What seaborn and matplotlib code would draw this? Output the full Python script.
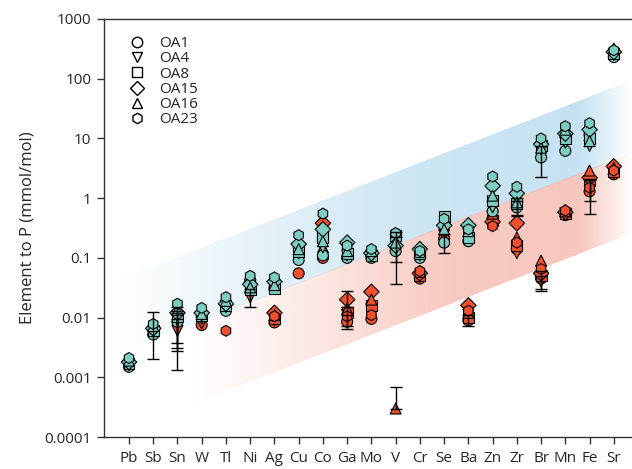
import numpy as np
import pandas as pd
import matplotlib
matplotlib.use("Agg")
import matplotlib.pyplot as plt
import seaborn as sns
from matplotlib.lines import Line2D
from matplotlib.patches import Polygon
from matplotlib.ticker import NullLocator
from matplotlib.colors import to_rgb

nan = np.nan

elements = ["Pb", "Sb", "Sn", "W", "Tl", "Ni", "Ag", "Cu", "Co", "Ga", "Mo",
            "V", "Cr", "Se", "Ba", "Zn", "Zr", "Br", "Mn", "Fe", "Sr"]
samples = ["OA1", "OA4", "OA8", "OA15", "OA16", "OA23"]
sample_markers = ["o", "v", "s", "D", "^", "h"]

# teal group (element order as above)
teal_OA1 = [0.0015, 0.0052, 0.0085, 0.0105, 0.013, 0.042, 0.031, 0.092, 0.11, 0.10, 0.10,
            0.13, 0.10, 0.18, 0.19, 0.6, 0.7, 4.8, 6.2, 11.5, 230]
teal_OA4 = [0.0016, 0.0058, 0.009, 0.0095, 0.015, 0.028, 0.033, 0.12, 0.15, 0.11, 0.11,
            0.20, 0.11, 0.28, 0.25, 0.7, 1.0, 6.5, 8.5, 7.5, 250]
teal_OA8 = [0.0017, 0.006, 0.0105, 0.011, 0.016, 0.030, 0.031, 0.13, 0.22, 0.12, 0.11,
            0.24, 0.12, 0.50, 0.22, 0.9, 0.8, 7.5, 10, 10, 260]
teal_OA15 = [0.0018, 0.0066, 0.012, 0.012, 0.017, 0.036, 0.040, 0.17, 0.30, 0.18, 0.12,
             0.16, 0.14, 0.35, 0.35, 1.6, 1.2, 8, 12, 14, 280]
teal_OA16 = [0.0019, 0.0072, 0.0135, 0.0115, 0.019, 0.032, 0.035, 0.14, 0.19, 0.13, 0.13,
             0.18, 0.125, 0.30, 0.28, 1.1, 0.85, 7, 14, 9, 320]
teal_OA23 = [0.0021, 0.0078, 0.017, 0.0145, 0.022, 0.050, 0.047, 0.24, 0.55, 0.16, 0.14,
             0.26, 0.13, 0.45, 0.30, 2.3, 1.55, 10, 16, 18, 300]

# red group
red_OA1 = [nan, nan, nan, 0.0075, nan, nan, 0.0083, 0.055, 0.10, 0.0085, 0.0095,
           nan, 0.045, 0.21, 0.009, 0.45, 0.14, 0.045, 0.52, 1.3, 2.5]
red_OA4 = [nan, nan, 0.006, 0.008, nan, 0.022, 0.009, nan, 0.20, 0.011, 0.014,
           nan, 0.048, 0.24, 0.011, 0.5, 0.12, 0.04, 0.55, 1.8, 2.6]
red_OA8 = [nan, nan, nan, nan, nan, nan, 0.0095, nan, 0.25, 0.012, 0.016,
           nan, 0.05, nan, 0.01, 0.42, 0.16, 0.05, 0.56, 2.0, 2.8]
red_OA15 = [nan, nan, nan, nan, nan, nan, 0.012, nan, 0.38, 0.020, 0.027,
            nan, 0.055, nan, 0.016, 0.40, 0.38, 0.055, 0.58, 2.2, 3.4]
red_OA16 = [nan, nan, nan, nan, nan, nan, 0.011, nan, 0.15, 0.014, 0.020,
            0.0003, 0.058, nan, 0.012, 0.55, 0.22, 0.09, 0.60, 2.9, 3.2]
red_OA23 = [nan, nan, nan, nan, 0.006, nan, 0.0105, nan, 0.30, 0.0105, 0.011,
            nan, 0.060, nan, 0.013, 0.34, 0.18, 0.065, 0.62, 1.5, 2.9]

# visible error bars: element, group, sample, lower bound, upper bound
err_element = ["Sb", "Sn", "Sn", "Sn", "Sn", "Ni", "V", "V", "V", "Se", "Ga", "Ga", "Ga",
               "Ba", "Zr", "Zr", "Br", "Br", "Br", "Fe", "Fe"]
err_group = ["teal", "red", "teal", "teal", "teal", "red", "teal", "teal", "red", "teal", "red", "red", "red",
             "red", "teal", "teal", "teal", "red", "red", "red", "red"]
err_sample = ["OA1", "OA4", "OA1", "OA4", "OA8", "OA4", "OA1", "OA4", "OA16", "OA1", "OA1", "OA15", "OA4",
              "OA1", "OA1", "OA8", "OA1", "OA1", "OA4", "OA1", "OA23"]
err_lower = [0.002, 0.00135, 0.0037, 0.0031, 0.0028, 0.015, 0.037, 0.084, 0.0003, 0.12, 0.0065, 0.015, 0.0072,
             0.0072, 0.53, 0.50, 2.3, 0.030, 0.028, 0.54, 0.88]
err_upper = [0.0122, 0.0095, 0.012, 0.013, 0.015, 0.030, 0.22, 0.27, 0.00068, 0.25, 0.011, 0.0275, 0.015,
             0.011, 0.9, 1.0, 7.5, 0.06, 0.05, 2.0, 2.1]

# shaded trend bands: edges at category positions 0 and 20
band_x = [0, 20]
blue_lo = [0.0029, 4.2]
blue_hi = [0.05, 72]
red_lo = [0.000135, 0.197]
red_hi = [0.003, 4.4]
blue_alpha_x = [-0.8, 4, 12, 18.6, 20.75]
blue_alpha = [0.0, 0.3, 0.75, 0.85, 0.0]
red_alpha_x = [2.5, 7, 13, 18.6, 20.75]
red_alpha = [0.0, 0.3, 0.8, 0.85, 0.0]

teal_color = "#7DCDC3"
red_color = "#F0502E"
blue_band_color = "#BCDDF0"
red_band_color = "#F7BDB2"

teal_series = [teal_OA1, teal_OA4, teal_OA8, teal_OA15, teal_OA16, teal_OA23]
red_series = [red_OA1, red_OA4, red_OA8, red_OA15, red_OA16, red_OA23]

rows = []
for grp, series in (("red", red_series), ("teal", teal_series)):
    for smp, vals in zip(samples, series):
        for i, (el, v) in enumerate(zip(elements, vals)):
            if not np.isnan(v):
                rows.append(dict(element=el, pos=i, group=grp, sample=smp, value=v))
df = pd.DataFrame(rows)

sns.set_style("ticks")
plt.rcParams["font.family"] = ["Open Sans", "DejaVu Sans"]

fig = plt.figure(figsize=(6.32, 4.69), dpi=100)
ax = fig.add_axes([104 / 632, 32 / 469, 528 / 632, 418 / 469])
ax.set_yscale("log")

YMIN, YMAX = 1e-4, 1e3
XMIN, XMAX = -1.03, 20.75


def edge(x, ends):
    l0, l1 = np.log10(ends[0]), np.log10(ends[1])
    return 10 ** (l0 + (l1 - l0) * (x - band_x[0]) / (band_x[1] - band_x[0]))


def draw_band(lo, hi, color, ax_x, alphas):
    x0, x1 = ax_x[0], ax_x[-1]
    xs = np.linspace(x0, x1, 500)
    rgba = np.zeros((1, len(xs), 4))
    rgba[..., :3] = to_rgb(color)
    rgba[0, :, 3] = np.interp(xs, ax_x, alphas)
    img = ax.imshow(rgba, extent=(x0, x1, YMIN, YMAX), aspect="auto",
                    interpolation="bilinear", origin="upper", zorder=0.5)
    poly = Polygon([(x0, edge(x0, lo)), (x1, edge(x1, lo)),
                    (x1, edge(x1, hi)), (x0, edge(x0, hi))],
                   closed=True, facecolor="none", edgecolor="none",
                   transform=ax.transData)
    ax.add_patch(poly)
    img.set_clip_path(poly)


draw_band(blue_lo, blue_hi, blue_band_color, blue_alpha_x, blue_alpha)
draw_band(red_lo, red_hi, red_band_color, red_alpha_x, red_alpha)

sns.scatterplot(data=df, x="pos", y="value", hue="group", style="sample",
                palette={"teal": teal_color, "red": red_color},
                markers=dict(zip(samples, sample_markers)),
                style_order=samples, s=62, edgecolor="black", linewidth=0.8,
                legend=False, ax=ax, zorder=2)

series_lookup = {("teal", s): v for s, v in zip(samples, teal_series)}
series_lookup.update({("red", s): v for s, v in zip(samples, red_series)})
for el, grp, smp, lo, hi in zip(err_element, err_group, err_sample, err_lower, err_upper):
    i = elements.index(el)
    v = series_lookup[(grp, smp)][i]
    ax.errorbar([i], [v], yerr=[[v - lo], [hi - v]], fmt="none", ecolor="black",
                elinewidth=1.0, capsize=4.3, capthick=1.0, zorder=3)

ax.set_xlim(XMIN, XMAX)
ax.set_ylim(YMIN, YMAX)
ax.set_xticks(range(len(elements)))
ax.set_xticklabels(elements, fontsize=11)
yticks = [1e-4, 1e-3, 1e-2, 1e-1, 1, 10, 100, 1000]
ylabels = ["0.0001", "0.001", "0.01", "0.1", "1", "10", "100", "1000"]
ax.set_yticks(yticks)
ax.set_yticklabels(ylabels, fontsize=11)
ax.yaxis.set_minor_locator(NullLocator())
ax.tick_params(axis="both", direction="out", length=5, width=1, color="#333333", pad=4)
ax.tick_params(axis="x", pad=5)
ax.set_xlabel("")
ax.set_ylabel("Element to P (mmol/mol)", fontsize=12, labelpad=6)
for sp in ("left", "top", "bottom"):
    ax.spines[sp].set_color("#333333")
    ax.spines[sp].set_linewidth(1.0)
ax.spines["right"].set_visible(False)

handles = [Line2D([], [], linestyle="none", marker=m, markersize=7.5,
                  markerfacecolor="none", markeredgecolor="black", markeredgewidth=1.0)
           for m in sample_markers]
ax.legend(handles, samples, loc="upper left", bbox_to_anchor=(0.027, 0.985),
          frameon=False, fontsize=11, handlelength=1.0, handletextpad=0.95,
          labelspacing=0.02, borderpad=0.2)

fig.savefig("out.png", dpi=100)
